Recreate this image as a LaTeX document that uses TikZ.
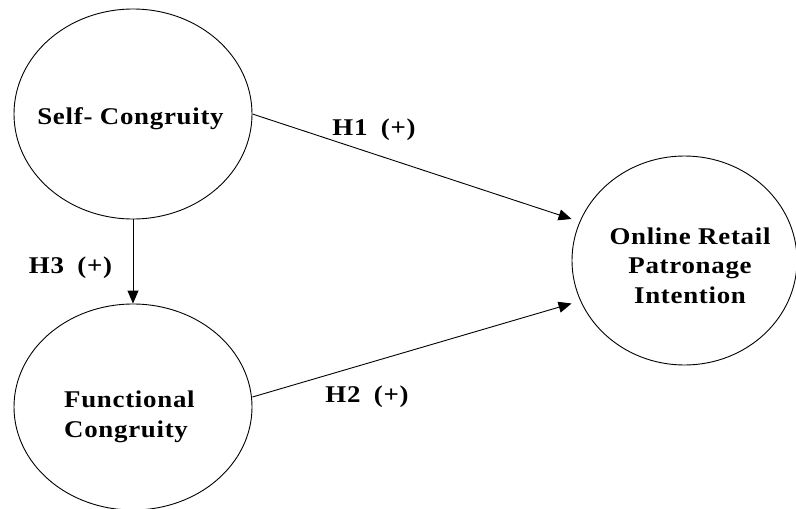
\documentclass[tikz,border=0pt]{standalone}
\usepackage{fontspec}
\setmainfont{Liberation Serif}[LetterSpace=3,FakeStretch=1.12]
\usetikzlibrary{shapes.geometric,arrows.meta,calc}
\begin{document}
\begin{tikzpicture}[x=1pt,y=-1pt,
  construct/.style={draw,ellipse,line width=0.9pt,inner sep=0pt},
  caption/.style={font=\fontsize{24}{29.5}\selectfont\bfseries,inner sep=0pt},
  path/.style={line width=0.9pt,-{Triangle[length=13pt,width=11pt]}},
  hyp/.style={caption,anchor=base}]
\useasboundingbox (0,0) rectangle (796,509);

% constructs
\node[construct,minimum width=238pt,minimum height=210pt] (s) at (133,114) {};
\node[construct,minimum width=238pt,minimum height=206pt] (f) at (133,407) {};
\node[construct,minimum width=225pt,minimum height=209pt] (o) at (684.5,260.5) {};

% construct names (base anchor sits on the last line)
\node[caption,anchor=base] (st) at (130.5,124) {Self- Congruity};
\node[caption,anchor=base west,align=left] (ft) at (64,437) {Functional\\Congruity};
\node[caption,anchor=base,align=center] (ot) at (690,303) {Online Retail\\Patronage\\Intention};

% hypothesised paths
\draw[path] (s.east) -- ($(o.west)+(0,-41.5)$);
\draw[path] ($(f.east)+(0,-10)$) -- ($(o.west)+(0,43)$);
\draw[path] (s.south) -- (f.north);

% path labels
\node[hyp] (h1) at (374,135) {H1\hspace{6pt} (+)};
\node[hyp] (h2) at (367,402) {H2\hspace{6pt} (+)};
\node[hyp] (h3) at (70.5,273) {H3\hspace{6pt} (+)};
\end{tikzpicture}
\end{document}
